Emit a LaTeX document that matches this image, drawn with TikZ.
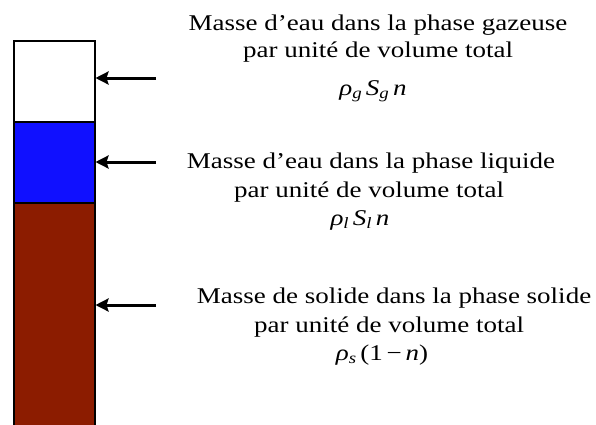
\documentclass[tikz,border=0pt]{standalone}
\usepackage{fontspec}
\setmainfont[FakeStretch=1.2]{Liberation Serif}
\usetikzlibrary{arrows.meta,positioning}
\definecolor{eaublue}{HTML}{1010FF}
\definecolor{solbrown}{HTML}{8C1C00}

\begin{document}
\begin{tikzpicture}[x=1pt,y=-1pt,
  layer/.style={draw=black,line width=1.5pt,minimum width=81pt,inner sep=0pt,anchor=north west},
  lbl/.style={font=\fontsize{22.5}{27}\selectfont,inner sep=0pt,anchor=base},
  arr/.style={line width=3pt,-{Stealth[length=13pt,width=13pt,inset=2pt]}}
]
  \useasboundingbox (0,0) rectangle (596,424);

  % the three phases of the column
  \node[layer,fill=white,minimum height=81pt] (gaz) at (13,40) {};
  \node[layer,fill=eaublue,minimum height=81pt] (liq) at (13,121) {};
  \node[layer,fill=solbrown,minimum height=230pt] (sol) at (13,202) {};

  % arrow tails
  \coordinate (tg) at (156,78);
  \coordinate (tl) at (156,162);
  \coordinate (ts) at (156,305);
  \draw[arr] (tg) -- (gaz.east |- tg);
  \draw[arr] (tl) -- (liq.east |- tl);
  \draw[arr] (ts) -- (sol.east |- ts);

  % labels
  \node[lbl] (g1) at (378,30) {Masse d’eau dans la phase gazeuse};
  \node[lbl] (g2) at (378,57) {par unité de volume total};
  \node[lbl] (g3) at (373,95) {\itshape ρ\textsubscript{g}\,S\textsubscript{g}\,n};

  \node[lbl] (l1) at (371,168) {Masse d’eau dans la phase liquide};
  \node[lbl] (l2) at (369,197) {par unité de volume total};
  \node[lbl] (l3) at (360,225) {\itshape ρ\textsubscript{l}\,S\textsubscript{l}\,n};

  \node[lbl] (s1) at (394,303) {Masse de solide dans la phase solide};
  \node[lbl] (s2) at (389,332) {par unité de volume total};
  \node[lbl] (s3) at (382,360) {\textit{ρ}\textsubscript{\textit{s}}\,(1\,−\,\textit{n})};
\end{tikzpicture}
\end{document}
